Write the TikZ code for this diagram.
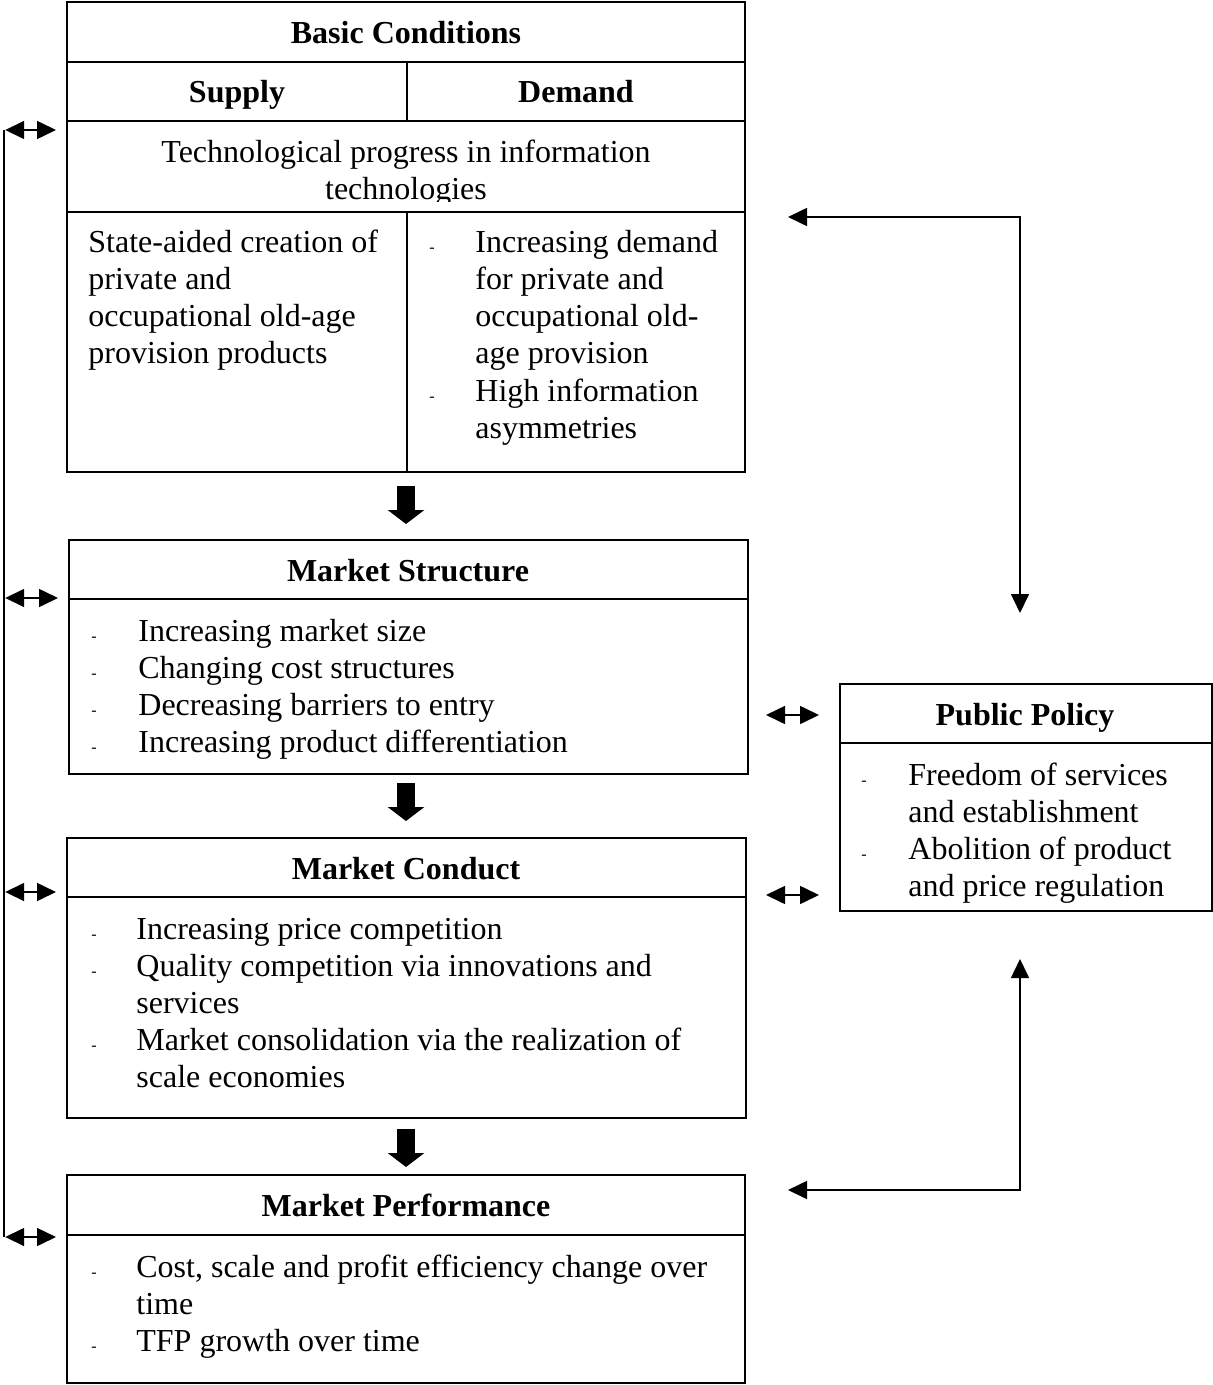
\documentclass[tikz,border=0pt]{standalone}
\usepackage{fontspec}
\setmainfont{Liberation Serif}
\usetikzlibrary{arrows.meta,fit}
\begin{document}
\begin{tikzpicture}[x=0.5pt,y=-0.5pt,
 box/.style={draw, line width=1pt, inner sep=0pt},
 rule/.style={line width=1pt},
 txt/.style={inner sep=0pt, anchor=base west, font=\fontsize{16}{18.5}\selectfont},
 dsh/.style={inner sep=0pt, anchor=base west, font=\fontsize{8}{9}\selectfont},
 ctxt/.style={txt, anchor=base},
 ttl/.style={inner sep=0pt, anchor=base, font=\fontsize{16}{18.5}\selectfont\bfseries},
 dbl/.style={line width=0.8pt, {Triangle[length=9.5pt,width=9pt]}-{Triangle[length=9.5pt,width=9pt]}},
 big/.style={line width=9pt, -{Triangle[length=7pt,width=18pt]}}]
\useasboundingbox (0,0) rectangle (1213,1385);

% boxes
\node[box, fit={(67,2) (745,472)}] (bc) {};
\node[box, fit={(69,540) (748,774)}] (ms) {};
\node[box, fit={(67,838) (746,1118)}] (mc) {};
\node[box, fit={(67,1175) (745,1383)}] (mp) {};
\node[box, fit={(840,684) (1212,911)}] (pp) {};

% internal rules
\draw[rule] (bc.west |- 0,62) -- (bc.east |- 0,62);
\draw[rule] (bc.west |- 0,121) -- (bc.east |- 0,121);
\draw[rule] (bc.west |- 0,212) -- (bc.east |- 0,212);
\draw[rule] (407,62) -- (407,121);
\draw[rule] (407,212) -- (407,472);
\draw[rule] (ms.west |- 0,599) -- (ms.east |- 0,599);
\draw[rule] (mc.west |- 0,897) -- (mc.east |- 0,897);
\draw[rule] (mp.west |- 0,1235) -- (mp.east |- 0,1235);
\draw[rule] (pp.west |- 0,743) -- (pp.east |- 0,743);

% Basic conditions texts
\node[ttl] (bct) at (406,44) {Basic Conditions};
\node[ttl] (sup) at (237,103) {Supply};
\node[ttl] (dem) at (576,103) {Demand};
\node[ctxt] (tp1) at (406,163) {Technological progress in information};
\begin{scope}
\clip (68,170) rectangle (744,202);
\node[ctxt] (tp2) at (406,200) {technologies};
\end{scope}
\foreach \t [count=\i] in {State-aided creation of, private and, occupational old-age, provision products}
  \node[txt] (s\i) at (88,253+37*\i-37) {\t};
\foreach \t [count=\i] in {Increasing demand, for private and, occupational old-, age provision, High information, asymmetries}
  \node[txt] (d\i) at (475,253+37*\i-37) {\t};
\node[dsh] (dd1) at (429,253) {-};
\node[dsh] (dd2) at (429,401) {-};

% Market structure
\node[ttl] (mst) at (408,581) {Market Structure};
\foreach \t [count=\i] in {Increasing market size, Changing cost structures, Decreasing barriers to entry, Increasing product differentiation}{
  \node[txt] (m\i) at (138,641+37*\i-37) {\t};
  \node[dsh] (md\i) at (91,641+37*\i-37) {-};
}

% Market conduct
\node[ttl] (mct) at (406,879) {Market Conduct};
\foreach \t [count=\i] in {Increasing price competition, Quality competition via innovations and, services, Market consolidation via the realization of, scale economies}
  \node[txt] (c\i) at (136,939+37*\i-37) {\t};
\foreach \i/\y in {1/939,2/976,3/1050}
  \node[dsh] (cd\i) at (91,\y) {-};

% Market performance
\node[ttl] (mpt) at (406,1216) {Market Performance};
\foreach \t [count=\i] in {{Cost, scale and profit efficiency change over}, time, TFP growth over time}
  \node[txt] (p\i) at (136,1277+37*\i-37) {\t};
\foreach \i/\y in {1/1277,2/1351}
  \node[dsh] (pd\i) at (91,\y) {-};

% Public policy
\node[ttl] (ppt) at (1025,725) {Public Policy};
\foreach \t [count=\i] in {Freedom of services, and establishment, Abolition of product, and price regulation}
  \node[txt] (q\i) at (908,785+37*\i-37) {\t};
\foreach \i/\y in {1/785,2/859}
  \node[dsh] (qd\i) at (861,\y) {-};

% thick arrows
\draw[big, shorten <=6.5pt, shorten >=7.5pt] (bc.south) -- (bc.south |- ms.north);
\draw[big, shorten <=4pt, shorten >=8pt] (bc.south |- ms.south) -- (bc.south |- mc.north);
\draw[big, shorten <=5pt, shorten >=3.5pt] (bc.south |- mc.south) -- (bc.south |- mp.north);

% left feedback
\coordinate (L1) at (4,130);
\coordinate (L2) at (4,598);
\coordinate (L3) at (4,892);
\coordinate (L4) at (4,1237);
\draw[line width=0.8pt] (L1) -- (L4);
\foreach \n/\b in {1/bc,2/ms,3/mc,4/mp}
  \draw[dbl, shorten <=0.6pt, shorten >=5pt] (L\n) -- (\b.west |- L\n);

% right feedback
\coordinate (R1) at (1020,217);
\coordinate (R2) at (1020,1190);
\draw[dbl, shorten <=21pt, shorten >=35pt] (bc.east |- R1) -- (R1) -- (R1 |- pp.north);
\draw[dbl, shorten <=21pt, shorten >=23.5pt] (mp.east |- R2) -- (R2) -- (R2 |- pp.south);

% middle double arrows
\coordinate (M1) at (0,715);
\coordinate (M2) at (0,895);
\draw[dbl, shorten <=8.5pt, shorten >=10pt] (ms.east |- M1) -- (pp.west |- M1);
\draw[dbl, shorten <=9.5pt, shorten >=10pt] (mc.east |- M2) -- (pp.west |- M2);
\end{tikzpicture}
\end{document}
